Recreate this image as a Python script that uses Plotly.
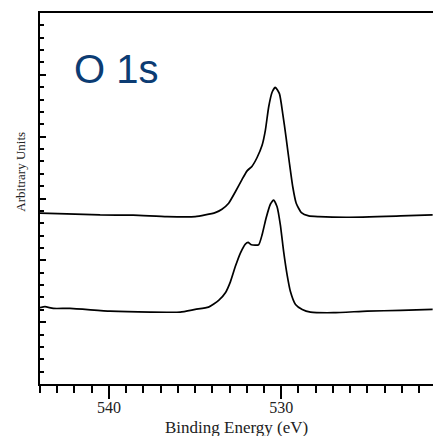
import plotly.graph_objects as go

# O 1s core-level spectra (binding energy in eV, intensity in arbitrary units)
upper_energy = [544.00, 542.45, 540.51, 538.59, 536.63, 534.99, 534.41, 533.83,
                533.44, 533.05, 532.66, 532.27, 531.98, 531.69, 531.40, 531.11,
                530.92, 530.73, 530.53, 530.34, 530.10, 529.91, 529.72, 529.52,
                529.33, 529.13, 528.83, 528.40, 527.82, 526.17, 523.07, 521.21]
upper_counts = [2.762, 2.751, 2.734, 2.730, 2.707, 2.707, 2.734, 2.771,
                2.826, 2.923, 3.109, 3.309, 3.447, 3.523, 3.663, 3.860,
                4.102, 4.476, 4.718, 4.798, 4.692, 4.370, 3.994, 3.566,
                3.190, 2.923, 2.771, 2.718, 2.707, 2.697, 2.718, 2.734]

lower_energy = [544.00, 543.71, 543.23, 542.26, 539.93, 537.60, 535.86, 534.99,
                534.22, 533.63, 533.24, 532.95, 532.66, 532.37, 532.08, 531.92,
                531.73, 531.31, 531.11, 530.88, 530.63, 530.44, 530.24, 530.05,
                529.86, 529.66, 529.47, 529.17, 528.78, 528.30, 526.97, 525.01,
                523.07, 521.21]
lower_counts = [1.234, 1.250, 1.222, 1.222, 1.179, 1.163, 1.163, 1.206,
                1.243, 1.351, 1.475, 1.652, 1.903, 2.118, 2.263, 2.289,
                2.252, 2.252, 2.413, 2.681, 2.907, 2.976, 2.868, 2.574,
                2.144, 1.769, 1.501, 1.287, 1.206, 1.163, 1.153, 1.179,
                1.190, 1.206]

energy_range = [544, 521.19]
intensity_range = [0, 6]
energy_ticks = [540, 530]

W, H = 433, 436
L, R, T, B = 40, 0, 13, 52

fig = go.Figure()
for xs, ys in ((upper_energy, upper_counts), (lower_energy, lower_counts)):
    fig.add_trace(go.Scatter(
        x=xs, y=ys, mode="lines",
        line=dict(color="black", width=1.7, shape="spline", smoothing=0.5),
        showlegend=False, hoverinfo="skip",
    ))

serif = "Liberation Serif, Times New Roman, serif"

fig.update_layout(
    width=W, height=H,
    margin=dict(l=L, r=R, t=T, b=B, pad=0),
    paper_bgcolor="white", plot_bgcolor="white",
    showlegend=False,
    xaxis=dict(
        range=energy_range, tickmode="array", tickvals=energy_ticks,
        ticktext=[str(v) for v in energy_ticks],
        ticks="outside", ticklen=13, tickwidth=1.5, tickcolor="black",
        ticklabelstandoff=-5,
        minor=dict(dtick=1, tick0=0, ticks="outside", ticklen=7,
                   tickwidth=1.5, tickcolor="black", showgrid=False),
        showline=True, linewidth=2, linecolor="black", mirror=True,
        showgrid=False, zeroline=False,
        tickfont=dict(family=serif, size=16, color="#222"),
    ),
    yaxis=dict(
        range=intensity_range, dtick=1, tick0=0,
        ticks="inside", ticklen=6, tickwidth=1.5, tickcolor="black",
        minor=dict(dtick=0.2, tick0=0, ticks="inside", ticklen=3.5,
                   tickwidth=1.5, tickcolor="black", showgrid=False),
        showline=True, linewidth=2, linecolor="black", mirror=False,
        showgrid=False, zeroline=False, showticklabels=False,
    ),
    yaxis2=dict(
        range=intensity_range, overlaying="y", side="right", dtick=1, tick0=0,
        ticks="inside", ticklen=3.5, tickwidth=1.5, tickcolor="black",
        minor=dict(dtick=0.2, tick0=0, ticks="inside", ticklen=1.2,
                   tickwidth=1.2, tickcolor="#999", showgrid=False),
        showline=False, showgrid=False, zeroline=False, showticklabels=False,
    ),
)

fig.add_annotation(
    text="O 1s", xref="paper", yref="paper", x=0.193, y=0.848,
    xanchor="center", yanchor="middle", showarrow=False,
    font=dict(family="Liberation Sans, Arial, sans-serif", size=40, color="#0c3c73"),
)
fig.add_annotation(
    text="Binding Energy (eV)", xref="paper", yref="paper", x=0.5, y=-0.117,
    xanchor="center", yanchor="middle", showarrow=False,
    font=dict(family=serif, size=17, color="#222"),
)
fig.add_annotation(
    text="Arbitrary Units", xref="paper", yref="paper", x=-0.0496, y=0.571,
    xanchor="center", yanchor="middle", showarrow=False, textangle=-90,
    font=dict(family=serif, size=13, color="#222"),
)

fig.write_html("out.html")
